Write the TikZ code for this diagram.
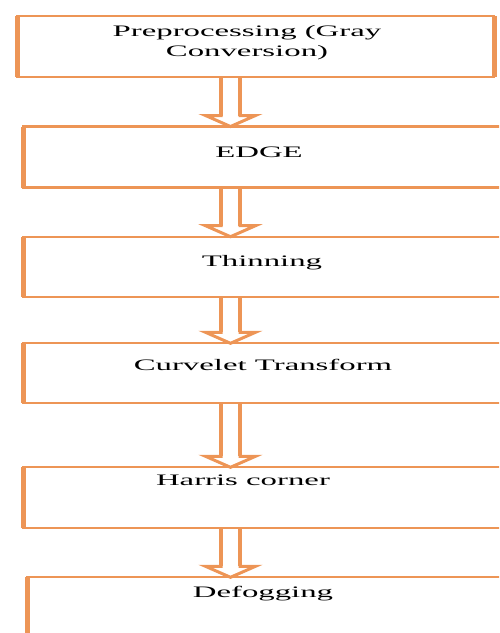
\documentclass[tikz,border=0pt]{standalone}
\usepackage{fontspec}
\setmainfont{Liberation Serif}[FakeStretch=2.05]
\usetikzlibrary{calc}
\definecolor{boxline}{RGB}{237,149,86}

\tikzset{
  stage/.style={draw=boxline,line width=2.3pt,inner sep=0pt,outer sep=0pt,anchor=north west,minimum height=61pt},
  side/.style={draw=boxline,line width=5pt},
  txt/.style={anchor=base,inner sep=0pt,align=center,font=\fontsize{16}{19.3}\selectfont},
  pipe/.style={draw=boxline,line width=3pt,line join=miter},
  stem/.style={draw=boxline,line width=4.5pt}
}

% double-line flow arrow from the bottom of #1 to the top of #2
\newcommand{\flowarrow}[2]{%
  \draw[pipe] ($(#1.south -| axis)+(-9.5,0)$) -- ($(#2.north -| axis)+(-9.5,-11)$) -- ++(-15.5,0)
    -- (#2.north -| axis) -- ++(25,-11) -- ++(-15.5,0) -- ($(#1.south -| axis)+(9.5,0)$);
  \draw[stem] ($(#1.south -| axis)+(-9.5,0)$) -- ($(#2.north -| axis)+(-9.5,-11)$);
  \draw[stem] ($(#1.south -| axis)+(9.5,0)$) -- ($(#2.north -| axis)+(9.5,-11)$);
}

\begin{document}
\begin{tikzpicture}[x=1pt,y=-1pt]
\useasboundingbox (0,0) rectangle (499,633);
\clip (0,0) rectangle (499,633);

\coordinate (axis) at (230.5,0);

% boxes
\node[stage,minimum width=477pt] (pre) at (17,16) {};
\node[stage,minimum width=482pt] (edge) at (23.3,126.5) {};
\node[stage,minimum width=482pt,minimum height=60.6pt] (thin) at (23.3,236.7) {};
\node[stage,minimum width=482pt,minimum height=59.4pt] (curve) at (23.3,343.3) {};
\node[stage,minimum width=482pt] (harris) at (23.3,467.3) {};
\node[stage,minimum width=478pt,minimum height=80pt] (defog) at (27.3,577.3) {};

\foreach \n in {pre,edge,thin,curve,harris,defog}
  \draw[side] (\n.north west) -- (\n.south west);
\draw[side] (pre.north east) -- (pre.south east);

% labels
\node[txt] (pre-t) at (247,56) {Preprocessing (Gray\\Conversion)};
\node[txt] (edge-t) at (259,157.3) {EDGE};
\node[txt] (thin-t) at (262,266) {Thinning};
\node[txt] (curve-t) at (263,370) {Curvelet Transform};
\node[txt] (harris-t) at (243,485) {Harris corner};
\node[txt] (defog-t) at (263,597) {Defogging};

% arrows
\flowarrow{pre}{edge}
\flowarrow{edge}{thin}
\flowarrow{thin}{curve}
\flowarrow{curve}{harris}
\flowarrow{harris}{defog}
\end{tikzpicture}
\end{document}
